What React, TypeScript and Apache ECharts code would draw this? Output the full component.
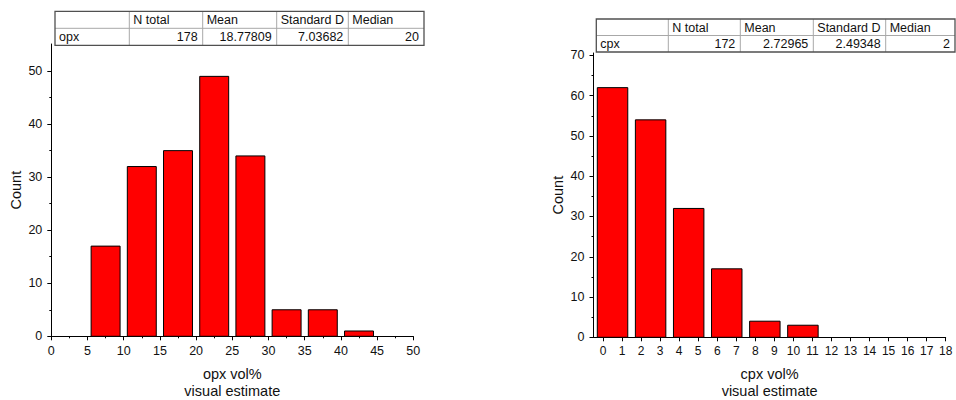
import React, { useEffect, useRef } from "react";
import * as echarts from "echarts";

// ---- data ----
const opxBinStarts = [0, 5, 10, 15, 20, 25, 30, 35, 40, 45];
const opxBinWidth = 5;
const opxCounts = [0, 17, 32, 35, 49, 34, 5, 5, 1, 0];

const cpxBinStarts = [-0.5, 1.5, 3.5, 5.5, 7.5, 9.5, 11.5, 13.5, 15.5];
const cpxBinWidth = 2;
const cpxCounts = [62, 54, 32, 17, 4, 3, 0, 0, 0];

const tableHeaders = ["", "N total", "Mean", "Standard D", "Median"];
const opxStats = ["opx", "178", "18.77809", "7.03682", "20"];
const cpxStats = ["cpx", "172", "2.72965", "2.49348", "2"];

const opxXTicks = [0, 5, 10, 15, 20, 25, 30, 35, 40, 45, 50];
const opxXMinor = [2.5, 7.5, 12.5, 17.5, 22.5, 27.5, 32.5, 37.5, 42.5, 47.5];
const opxYTicks = [0, 10, 20, 30, 40, 50];
const opxYMinor = [5, 15, 25, 35, 45];
const cpxXTicks = [0, 1, 2, 3, 4, 5, 6, 7, 8, 9, 10, 11, 12, 13, 14, 15, 16, 17, 18];
const cpxYTicks = [0, 10, 20, 30, 40, 50, 60, 70];
const cpxYMinor = [5, 15, 25, 35, 45, 55, 65];

const FONT = "'Liberation Sans', Arial, sans-serif";

function buildTable(x: number, y: number, colX: number[], rowH: number, stats: string[]) {
  const els: any[] = [];
  const w = colX[colX.length - 1] - x;
  const h = rowH * 2;
  els.push({ type: "rect", shape: { x, y, width: w, height: h }, style: { fill: "#fff", stroke: "none" }, z: 10 });
  els.push({ type: "line", shape: { x1: x, y1: y + rowH, x2: x + w, y2: y + rowH }, style: { stroke: "#a8a8a8", lineWidth: 1 }, z: 11 });
  for (let i = 1; i < colX.length - 1; i++) {
    els.push({ type: "line", shape: { x1: colX[i], y1: y, x2: colX[i], y2: y + h }, style: { stroke: "#a8a8a8", lineWidth: 1 }, z: 11 });
  }
  els.push({ type: "rect", shape: { x, y, width: w, height: h }, style: { fill: "none", stroke: "#505050", lineWidth: 1.3 }, z: 12 });
  for (let i = 0; i < tableHeaders.length; i++) {
    if (tableHeaders[i]) {
      els.push({ type: "text", x: colX[i] + 4, y: y + rowH / 2 + 0.5, style: { text: tableHeaders[i], fill: "#111", font: `12.5px ${FONT}`, textAlign: "left", textVerticalAlign: "middle" }, z: 13 });
    }
  }
  for (let i = 0; i < stats.length; i++) {
    const left = i === 0;
    els.push({
      type: "text",
      x: left ? colX[i] + 4 : colX[i + 1] - 5,
      y: y + rowH * 1.5 + 0.5,
      style: { text: stats[i], fill: "#111", font: `12.5px ${FONT}`, textAlign: left ? "left" : "right", textVerticalAlign: "middle" },
      z: 13,
    });
  }
  return els;
}

const barRender = (params: any, api: any) => {
  const x0 = api.value(0);
  const x1 = api.value(1);
  const v = api.value(2);
  if (!v) return null;
  const inset = (x1 - x0) * 0.1;
  const p0 = api.coord([x0 + inset, v]);
  const p1 = api.coord([x1 - inset, 0]);
  return {
    type: "rect",
    shape: { x: p0[0], y: p0[1], width: p1[0] - p0[0], height: p1[1] - p0[1] },
    style: { fill: "#ff0000", stroke: "#000", lineWidth: 1 },
  };
};

export default function App() {
  const ref = useRef<HTMLDivElement>(null);
  useEffect(() => {
    if (!ref.current) return;
    const chart = echarts.init(ref.current, null, { renderer: "svg" });
    const axisText = { color: "#111", fontFamily: FONT, fontSize: 12.5 };
    const nameText = { color: "#111", fontFamily: FONT, fontSize: 14.5, lineHeight: 17 };
    const line = { show: true, onZero: false, lineStyle: { color: "#000", width: 1 } };
    const xMain = (min: number, max: number, ticks: number[], name: string, gridIndex: number, fs: number, gap: number) => ({
      type: "value",
      gridIndex,
      min,
      max,
      name,
      nameLocation: "middle",
      nameGap: gap,
      nameTextStyle: nameText,
      axisLine: line,
      axisTick: { show: true, inside: false, length: 4, customValues: ticks, lineStyle: { color: "#000" } },
      axisLabel: { ...axisText, fontSize: fs, margin: 8, customValues: ticks, showMinLabel: true, showMaxLabel: true },
      splitLine: { show: false },
    });
    const xMinor = (min: number, max: number, ticks: number[], gridIndex: number) => ({
      type: "value",
      gridIndex,
      min,
      max,
      position: "bottom",
      axisLine: { show: false, onZero: false },
      axisTick: { show: true, length: 2, customValues: ticks, lineStyle: { color: "#000" } },
      axisLabel: { show: false },
      splitLine: { show: false },
    });
    const yMain = (max: number, ticks: number[], gridIndex: number) => ({
      type: "value",
      gridIndex,
      min: 0,
      max,
      name: "Count",
      nameLocation: "middle",
      nameGap: 27,
      nameTextStyle: nameText,
      axisLine: line,
      axisTick: { show: true, length: 4, customValues: ticks, lineStyle: { color: "#000" } },
      axisLabel: { ...axisText, margin: 9, customValues: ticks },
      splitLine: { show: false },
    });
    const yMinor = (max: number, ticks: number[], gridIndex: number) => ({
      type: "value",
      gridIndex,
      min: 0,
      max,
      position: "left",
      axisLine: { show: false, onZero: false },
      axisTick: { show: true, length: 2, customValues: ticks, lineStyle: { color: "#000" } },
      axisLabel: { show: false },
      splitLine: { show: false },
    });

    chart.setOption({
      animation: false,
      backgroundColor: "#fff",
      grid: [
        { left: 51.3, top: 44, right: 956 - 413.3, bottom: 400 - 336.3, outerBoundsMode: "none", containLabel: false },
        { left: 593.5, top: 53, right: 956 - 945.7, bottom: 400 - 337.3, outerBoundsMode: "none", containLabel: false },
      ],
      xAxis: [
        xMain(0, 50, opxXTicks, "opx vol%\nvisual estimate", 0, 12.5, 29.5),
        xMinor(0, 50, opxXMinor, 0),
        xMain(-0.5, 18, cpxXTicks, "cpx vol%\nvisual estimate", 1, 12, 28),
      ],
      yAxis: [
        yMain(55.1, opxYTicks, 0),
        yMinor(55.1, opxYMinor, 0),
        yMain(70.6, cpxYTicks, 1),
        yMinor(70.6, cpxYMinor, 1),
      ],
      series: [
        {
          type: "custom",
          xAxisIndex: 0,
          yAxisIndex: 0,
          clip: false,
          renderItem: barRender,
          encode: { x: [0, 1], y: 2 },
          data: opxBinStarts.map((s, i) => [s, s + opxBinWidth, opxCounts[i]]),
          z: 3,
        },
        {
          type: "custom",
          xAxisIndex: 2,
          yAxisIndex: 2,
          clip: false,
          renderItem: barRender,
          encode: { x: [0, 1], y: 2 },
          data: cpxBinStarts.map((s, i) => [s, s + cpxBinWidth, cpxCounts[i]]),
          z: 3,
        },
      ],
      graphic: [
        ...buildTable(55, 11.3, [55, 129.3, 202.7, 276.7, 348.3, 424], 17, opxStats),
        ...buildTable(596.3, 19, [596.3, 668.3, 740.3, 813.3, 885.7, 955], 16.5, cpxStats),
      ],
    });
    return () => chart.dispose();
  }, []);
  return <div ref={ref} style={{ position: "absolute", left: 0, top: 0, width: 956, height: 400 }} />;
}
